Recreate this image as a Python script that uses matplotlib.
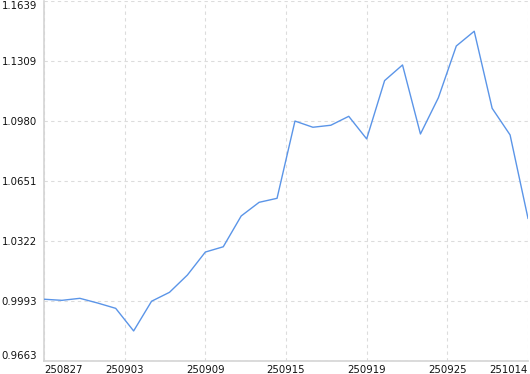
import numpy as np
import matplotlib
matplotlib.use('Agg')
import matplotlib.pyplot as plt

# values
values = [1.0002, 0.9996, 1.0007, 0.9981, 0.9952, 0.9828, 0.9991, 1.0040,
          1.0135, 1.0261, 1.0290, 1.0459, 1.0534, 1.0556, 1.0980, 1.0946,
          1.0957, 1.1006, 1.0882, 1.1202, 1.1288, 1.0909, 1.1108, 1.1392,
          1.1473, 1.1050, 1.0904, 1.0446]
x_labels = ['250827', '250903', '250909', '250915', '250919', '250925', '251014']
y_labels = ['0.9663', '0.9993', '1.0322', '1.0651', '1.0980', '1.1309', '1.1639']
y_min, y_max = 0.9663, 1.1639

fig = plt.figure(figsize=(5.3, 3.74), dpi=100)
ax = fig.add_axes([44 / 530, 13 / 374, 484 / 530, 360 / 374])

x = np.arange(len(values))
ax.plot(x, values, color='#5b95e8', lw=1.0, zorder=3)

ax.set_xlim(0, len(values) - 1)
ax.set_ylim(y_min, y_max)

ax.set_xticks(np.linspace(0, len(values) - 1, len(x_labels)))
ax.set_xticklabels(x_labels)
ax.set_yticks(np.linspace(y_min, y_max, len(y_labels)))
ax.set_yticklabels(y_labels)

ax.grid(True, color='#dcdcdc', ls=(0, (3, 3)), lw=0.8)
ax.tick_params(length=0, labelsize=7.3, colors='#111111', pad=5)
ax.tick_params(axis='x', pad=3)

for s in ['top', 'right']:
    ax.spines[s].set_visible(False)
for s in ['left', 'bottom']:
    ax.spines[s].set_color('#d4d4d4')
    ax.spines[s].set_linewidth(1.2)

# edge labels stay inside the figure
xt = ax.get_xticklabels()
xt[0].set_ha('left')
xt[-1].set_ha('right')
yt = ax.get_yticklabels()
yt[0].set_va('bottom')
yt[-1].set_va('top')

fig.savefig('out.png', dpi=100)
